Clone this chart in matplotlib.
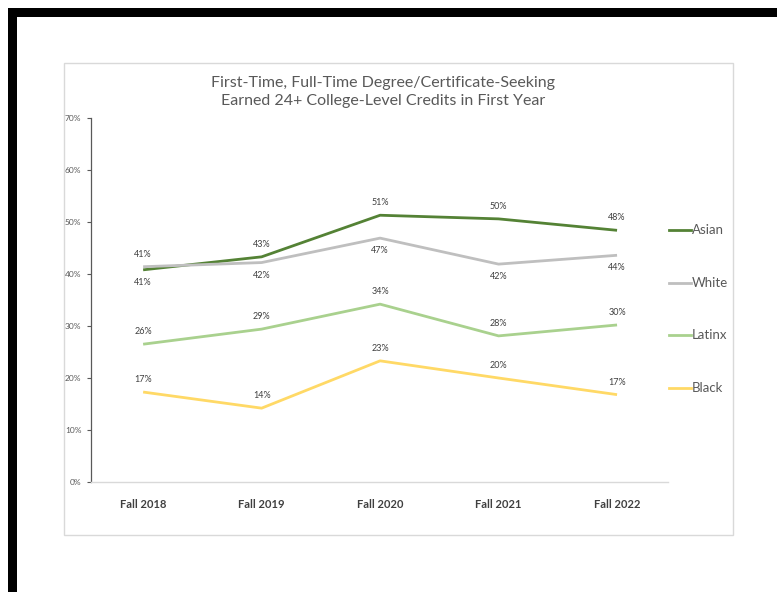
import matplotlib
matplotlib.use("Agg")
import matplotlib.pyplot as plt
from matplotlib.patches import Rectangle

categories = ["Fall 2018", "Fall 2019", "Fall 2020", "Fall 2021", "Fall 2022"]
asian = [40.8, 43.3, 51.3, 50.6, 48.4]
white = [41.4, 42.2, 46.9, 41.9, 43.6]
latinx = [26.5, 29.4, 34.2, 28.1, 30.2]
black = [17.3, 14.2, 23.3, 20.0, 16.8]
asian_labels = ["41%", "43%", "51%", "50%", "48%"]
white_labels = ["41%", "42%", "47%", "42%", "44%"]
latinx_labels = ["26%", "29%", "34%", "28%", "30%"]
black_labels = ["17%", "14%", "23%", "20%", "17%"]
yticks = [0, 10, 20, 30, 40, 50, 60, 70]
ytick_labels = ["0%", "10%", "20%", "30%", "40%", "50%", "60%", "70%"]
series_names = ["Asian", "White", "Latinx", "Black"]
title = "First-Time, Full-Time Degree/Certificate-Seeking\nEarned 24+ College-Level Credits in First Year"

plt.rcParams['font.family'] = ['Lato', 'DejaVu Sans']

W, H = 777, 592
fig = plt.figure(figsize=(W / 100, H / 100), dpi=100)
fig.patch.set_facecolor("white")

def fx(px):
    return px / W

def fy(py):
    return 1 - py / H

# black frame (top and left)
fig.patches.append(Rectangle((fx(8), fy(17)), 1 - fx(8), (17 - 8) / H, transform=fig.transFigure,
                             facecolor="black", edgecolor="none", zorder=-2))
fig.patches.append(Rectangle((fx(8), 0), (17 - 8) / W, fy(8), transform=fig.transFigure,
                             facecolor="black", edgecolor="none", zorder=-2))
# chart box
fig.patches.append(Rectangle((fx(64), fy(535)), (733 - 64) / W, (535 - 63) / H, transform=fig.transFigure,
                             facecolor="white", edgecolor="#D9D9D9", linewidth=1.0, zorder=-1))

ax = fig.add_axes([fx(91), fy(482), (668 - 91) / W, (482 - 118) / H])
ax.set_facecolor("none")
x = list(range(len(categories)))
colors = ["#548235", "#BFBFBF", "#A9D18E", "#FFD966"]
data = [asian, white, latinx, black]
labels = [asian_labels, white_labels, latinx_labels, black_labels]
# position of label: +1 above, -1 below
positions = [
    [-1, 1, 1, 1, 1],
    [1, -1, -1, -1, -1],
    [1, 1, 1, 1, 1],
    [1, 1, 1, 1, 1],
]
for vals, col, labs, pos, name in zip(data, colors, labels, positions, series_names):
    ax.plot(x, vals, color=col, linewidth=2.0, label=name, solid_capstyle="butt")
    for xi, v, lb, p in zip(x, vals, labs, pos):
        ax.annotate(lb, (xi, v), xytext=(0, 9 * p), textcoords="offset points",
                    ha="center", va="center", fontsize=6.5, color="#404040")

ax.set_xlim(-0.44, 4.43)
ax.set_ylim(0, 70)
ax.set_yticks(yticks)
ax.set_yticklabels(ytick_labels, fontsize=6, color="#595959")
ax.set_xticks(x)
ax.set_xticklabels(categories, fontsize=8, color="#404040", fontweight="bold")
ax.tick_params(axis="x", length=0, pad=12)
ax.tick_params(axis="y", length=3, width=0.8, color="#595959", pad=4, direction="out")
for s in ["top", "right"]:
    ax.spines[s].set_visible(False)
ax.spines["left"].set_color("#595959")
ax.spines["left"].set_linewidth(0.9)
ax.spines["bottom"].set_color("#D9D9D9")
ax.spines["bottom"].set_linewidth(1.0)

fig.text(fx(383), fy(92), title, ha="center", va="center", fontsize=11.5, color="#595959",
         linespacing=1.4)

# legend
leg_y = [230, 283, 335, 388]
for ly, col, name in zip(leg_y, colors, series_names):
    fig.lines.append(plt.Line2D([fx(669), fx(691)], [fy(ly), fy(ly)], transform=fig.transFigure,
                                color=col, linewidth=2.0))
    fig.text(fx(692), fy(ly), name, ha="left", va="center", fontsize=9.5, color="#595959")

fig.savefig("out.png", dpi=100, facecolor="white")
